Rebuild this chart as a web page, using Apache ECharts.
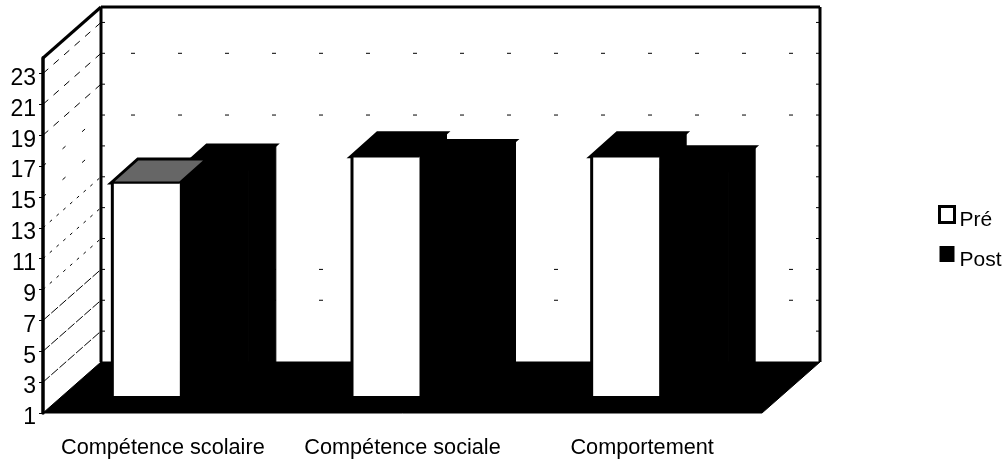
<!DOCTYPE html>
<html>
  <head>
    <meta charset="UTF-8">
    <title>Pré / Post</title>
    <style>html,body{margin:0;background:#fff}</style>
    <script src="https://cdn.jsdelivr.net/npm/echarts@6/dist/echarts.min.js"></script>
  </head>
  <body>
    <div id="box" style="width:1004px;height:460px"></div>
    <script>
        var categories = ['Compétence scolaire', 'Compétence sociale', 'Comportement'];
        var preValues = [14.8, 16.5, 16.5];
        var postValues = [15.7, 16.0, 15.6];
        var yTicks = [1, 3, 5, 7, 9, 11, 13, 15, 17, 19, 21, 23];
        var backGridTicks = [5, 7, 17, 21];   // only these survive on the back wall
        var wallItem = [[0, 1]];

        // fake 3d offsets, in pixels
        var WALL_DX = 58, WALL_DY = 51;    // depth of the floor
        var BAR_DX = 27, BAR_DY = 24;      // depth of a bar
        var BAR_OFF_X = 17, BAR_OFF_Y = 17; // bars stand a little behind the front edge
        var BAR_W = 69;
        var FONT = '"Liberation Sans", Arial, sans-serif';

        function line(x1, y1, x2, y2, width, dash) {
            return {
                type: 'line',
                shape: {x1: x1, y1: y1, x2: x2, y2: y2},
                style: {stroke: '#000', lineWidth: width, lineDash: dash || null}
            };
        }
        function poly(points, fill, stroke, width) {
            return {
                type: 'polygon',
                shape: {points: points},
                style: {fill: fill, stroke: stroke || null, lineWidth: width || 0}
            };
        }

        function renderWalls(params, api) {
            var c = params.coordSys;
            var x0 = c.x, x1 = c.x + c.width, y0 = c.y, y1 = c.y + c.height;
            var bx0 = x0 + WALL_DX, bx1 = x1 + WALL_DX;
            var kids = [];
            yTicks.forEach(function (v) {
                if (v === 1) return;
                var y = api.coord([0, v])[1];
                // the scan ate most of the grid, so the dashes differ by height
                kids.push(line(x0, y, bx0, y - WALL_DY, 1, v < 9 ? [9, 2] : (v < 15 ? [3, 6] : (v < 19 ? [4, 22] : [7, 7]))));
                if (backGridTicks.indexOf(v) >= 0) {
                    kids.push(line(bx0 + 30, y - WALL_DY, bx1, y - WALL_DY, 1, [4, 43]));
                }
                kids.push(line(bx0 - 1, y - WALL_DY, bx0 + 4, y - WALL_DY, 1));
                kids.push(line(bx1 - 4, y - WALL_DY, bx1 + 1, y - WALL_DY, 1));
            });
            kids.push(poly([[x0, y1], [bx0, y1 - WALL_DY], [bx1, y1 - WALL_DY], [x1, y1]], '#000', '#000', 1));
            kids.push(line(x0, y0, bx0, y0 - WALL_DY, 3));
            kids.push(line(bx0, y0 - WALL_DY, bx1, y0 - WALL_DY, 3));
            kids.push(line(bx0, y0 - WALL_DY, bx0, y1 - WALL_DY, 3));
            kids.push(line(bx1, y0 - WALL_DY, bx1, y1 - WALL_DY, 3));
            return {type: 'group', children: kids};
        }

        function renderBar(side) {
            return function (params, api) {
                var idx = api.value(0);
                var top = api.coord([idx, api.value(1)]);
                var base = api.coord([idx, 1]);
                var l = top[0] + BAR_OFF_X + (side === 0 ? -BAR_W : 0);
                var r = l + BAR_W;
                var t = top[1] - BAR_OFF_Y;
                var b = base[1] - BAR_OFF_Y;
                var kids = [
                    poly([[r, t], [r + BAR_DX, t - BAR_DY], [r + BAR_DX, b - BAR_DY], [r, b]], '#000', '#000', 1),
                    poly([[l, t], [l + BAR_DX, t - BAR_DY], [r + BAR_DX, t - BAR_DY], [r, t]],
                        side === 0 && idx === 0 ? '#666' : '#000', '#000', 3)
                ];
                if (side === 0) {
                    kids.push({
                        type: 'rect',
                        shape: {x: l + 1.5, y: t, width: BAR_W - 1.5, height: b - t},
                        style: {fill: '#fff'}
                    });
                    kids.push(line(l + 1.5, t, l + 1.5, b, 3));
                    kids.push(line(l, t, r, t, 1.5));
                } else {
                    kids.push({
                        type: 'rect',
                        shape: {x: l, y: t, width: BAR_W, height: b - t},
                        style: {fill: '#000', stroke: '#000', lineWidth: 1}
                    });
                }
                return {type: 'group', children: kids};
            };
        }

        function barData(values) {
            return values.map(function (v, i) { return [i, v]; });
        }

        var myChart = echarts.init(document.getElementById('box'));
        myChart.setOption({
            animation: false,
            backgroundColor: '#fff',
            textStyle: {fontFamily: FONT},
            legend: {
                orient: 'vertical',
                left: 938,
                top: 205,
                padding: 0,
                itemWidth: 15,
                itemHeight: 16,
                itemGap: 15,
                selectedMode: false,
                formatter: function (name) { return '{a|' + name + '}'; },
                textStyle: {
                    color: '#000',
                    fontFamily: FONT,
                    rich: {a: {fontSize: 21, color: '#000', fontFamily: FONT, padding: [12, 0, 0, 0]}}
                },
                data: [
                    {name: 'Pré', icon: 'rect', itemStyle: {color: '#fff', borderColor: '#000', borderWidth: 3}},
                    {name: 'Post', icon: 'rect', itemStyle: {color: '#000', borderWidth: 0}}
                ]
            },
            grid: {left: 43, right: 242, top: 58, bottom: 47},
            xAxis: {
                type: 'category',
                data: categories,
                axisLine: {show: false},
                axisTick: {show: false},
                axisLabel: {color: '#000', fontSize: 21.7, margin: 24, interval: 0, fontFamily: FONT}
            },
            yAxis: {
                type: 'value',
                min: 1,
                max: 24,
                z: 5,
                splitLine: {show: false},
                axisLine: {show: true, lineStyle: {color: '#000', width: 3.5}},
                axisTick: {show: true, length: 4, customValues: yTicks, lineStyle: {color: '#000', width: 1}},
                axisLabel: {color: '#000', fontSize: 23, margin: 7, verticalAlign: 'top', lineHeight: 10, customValues: yTicks, fontFamily: FONT}
            },
            series: [
                {name: 'walls', type: 'custom', z: 1, clip: false, silent: true, data: wallItem, renderItem: renderWalls},
                {name: 'Pré', type: 'custom', z: 3, clip: false, data: barData(preValues), renderItem: renderBar(0)},
                {name: 'Post', type: 'custom', z: 2, clip: false, data: barData(postValues), renderItem: renderBar(1)}
            ]
        });
    </script>
  </body>
</html>
